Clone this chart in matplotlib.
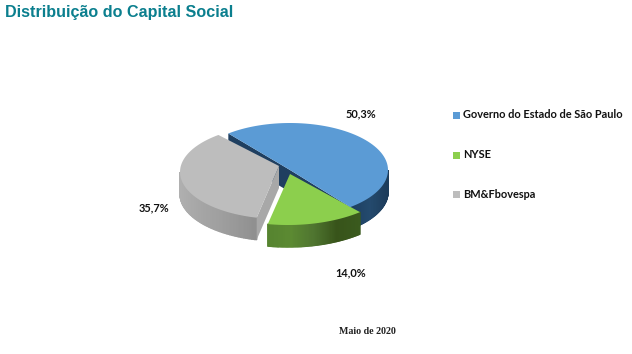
import matplotlib
matplotlib.use('Agg')
import numpy as np
import matplotlib.pyplot as plt
from matplotlib.colors import LinearSegmentedColormap

categories = ['Governo do Estado de São Paulo', 'NYSE', 'BM&Fbovespa']
values = [50.3, 14.0, 35.7]
labels = ['50,3%', '14,0%', '35,7%']
top_colors = ['#5b9bd5', '#8ccf4d', '#bdbdbd']

W, H = 632, 354
depth = 22


def arc(cx, cy, a, b, t0, t1, n=80):
    t = np.radians(np.linspace(t0, t1, n))
    return cx + a * np.cos(t), cy - b * np.sin(t)


def wall(x, y, d, cmap, zorder):
    # side of a slice, drawn as thin strips so the shading follows the rim
    lo, hi = x.min(), x.max()
    for i in range(len(x) - 1):
        c = cmap((x[i] - lo) / (hi - lo))
        ax.fill([x[i], x[i + 1], x[i + 1], x[i]],
                [y[i], y[i + 1], y[i + 1] + d, y[i] + d],
                color=c, lw=1.0, zorder=zorder)


fig = plt.figure(figsize=(W / 100, H / 100), dpi=100)
ax = fig.add_axes([0, 0, 1, 1])
ax.set_xlim(0, W)
ax.set_ylim(H, 0)
ax.axis('off')

sweeps = [v * 3.6 for v in values]

# blue
start = 129
bx, by = arc(290, 170, 98, 47, start, start - sweeps[0])
blue_wall = LinearSegmentedColormap.from_list('b', ['#1d3f60', '#244a6e', '#1d3c5a'])
wall(*arc(290, 170, 98, 47, 0, start - sweeps[0]), depth, blue_wall, 1)
ax.fill([bx[0], 290, bx[-1], bx[-1], 290, bx[0]],
        [by[0], 170, by[-1], by[-1] + depth, 170 + depth, by[0] + depth],
        color='#1f3f60', lw=0, zorder=1)
ax.fill(np.r_[bx, 290], np.r_[by, 170], color=top_colors[0], lw=0, zorder=4)

# green
g0 = -50
gx, gy = arc(288, 170, 112, 55, g0, g0 - sweeps[1])
green_wall = LinearSegmentedColormap.from_list('g', ['#568430', '#5c8a32', '#4f7530', '#38541a', '#3a5a1e'])
wall(gx, gy, depth, green_wall, 2)
ax.fill(np.r_[gx, 290], np.r_[gy, 174], color=top_colors[1], lw=0, zorder=3)

# gray
s0 = 128
sx, sy = arc(280, 172, 100, 47, s0, s0 + sweeps[2])
gray_wall = LinearSegmentedColormap.from_list('s', ['#b0b0b0', '#a6a6a6', '#a0a0a0', '#989898', '#8f8f8f'])
wx, wy = arc(280, 172, 100, 47, 180, s0 + sweeps[2])
wall(wx, wy, depth, gray_wall, 5)
ax.fill([279, sx[-1], sx[-1], 279], [166, sy[-1], sy[-1] + depth, 166 + depth],
        color='#a8a8a8', lw=0, zorder=5)
ax.fill(np.r_[sx, 279], np.r_[sy, 166], color=top_colors[2], lw=0, zorder=6)

# value labels
label_pos = [(361, 114), (351, 273), (154, 208)]
for t, p in zip(labels, label_pos):
    ax.text(p[0], p[1], t, family='Lato', fontweight='bold', fontsize=7.9,
            color='#111111', ha='center', va='center')

# legend
legend_y = [115, 155, 194]
for name, c, y in zip(categories, top_colors, legend_y):
    ax.fill([453, 460, 460, 453], [y - 3.5, y - 3.5, y + 3.5, y + 3.5], color=c, lw=0)
    ax.text(463, y, name, family='Lato', fontweight='bold', fontsize=7.95,
            color='#111111', ha='left', va='center')

ax.text(5, 13, 'Distribuição do Capital Social', family='Liberation Sans',
        fontweight='bold', fontsize=11.6, color='#0b7f8e', ha='left', va='center')
ax.text(367, 331, 'Maio de 2020', family='Liberation Serif', fontweight='bold',
        fontsize=7.2, color='#222222', ha='center', va='center')

fig.savefig('out.png', dpi=100)
